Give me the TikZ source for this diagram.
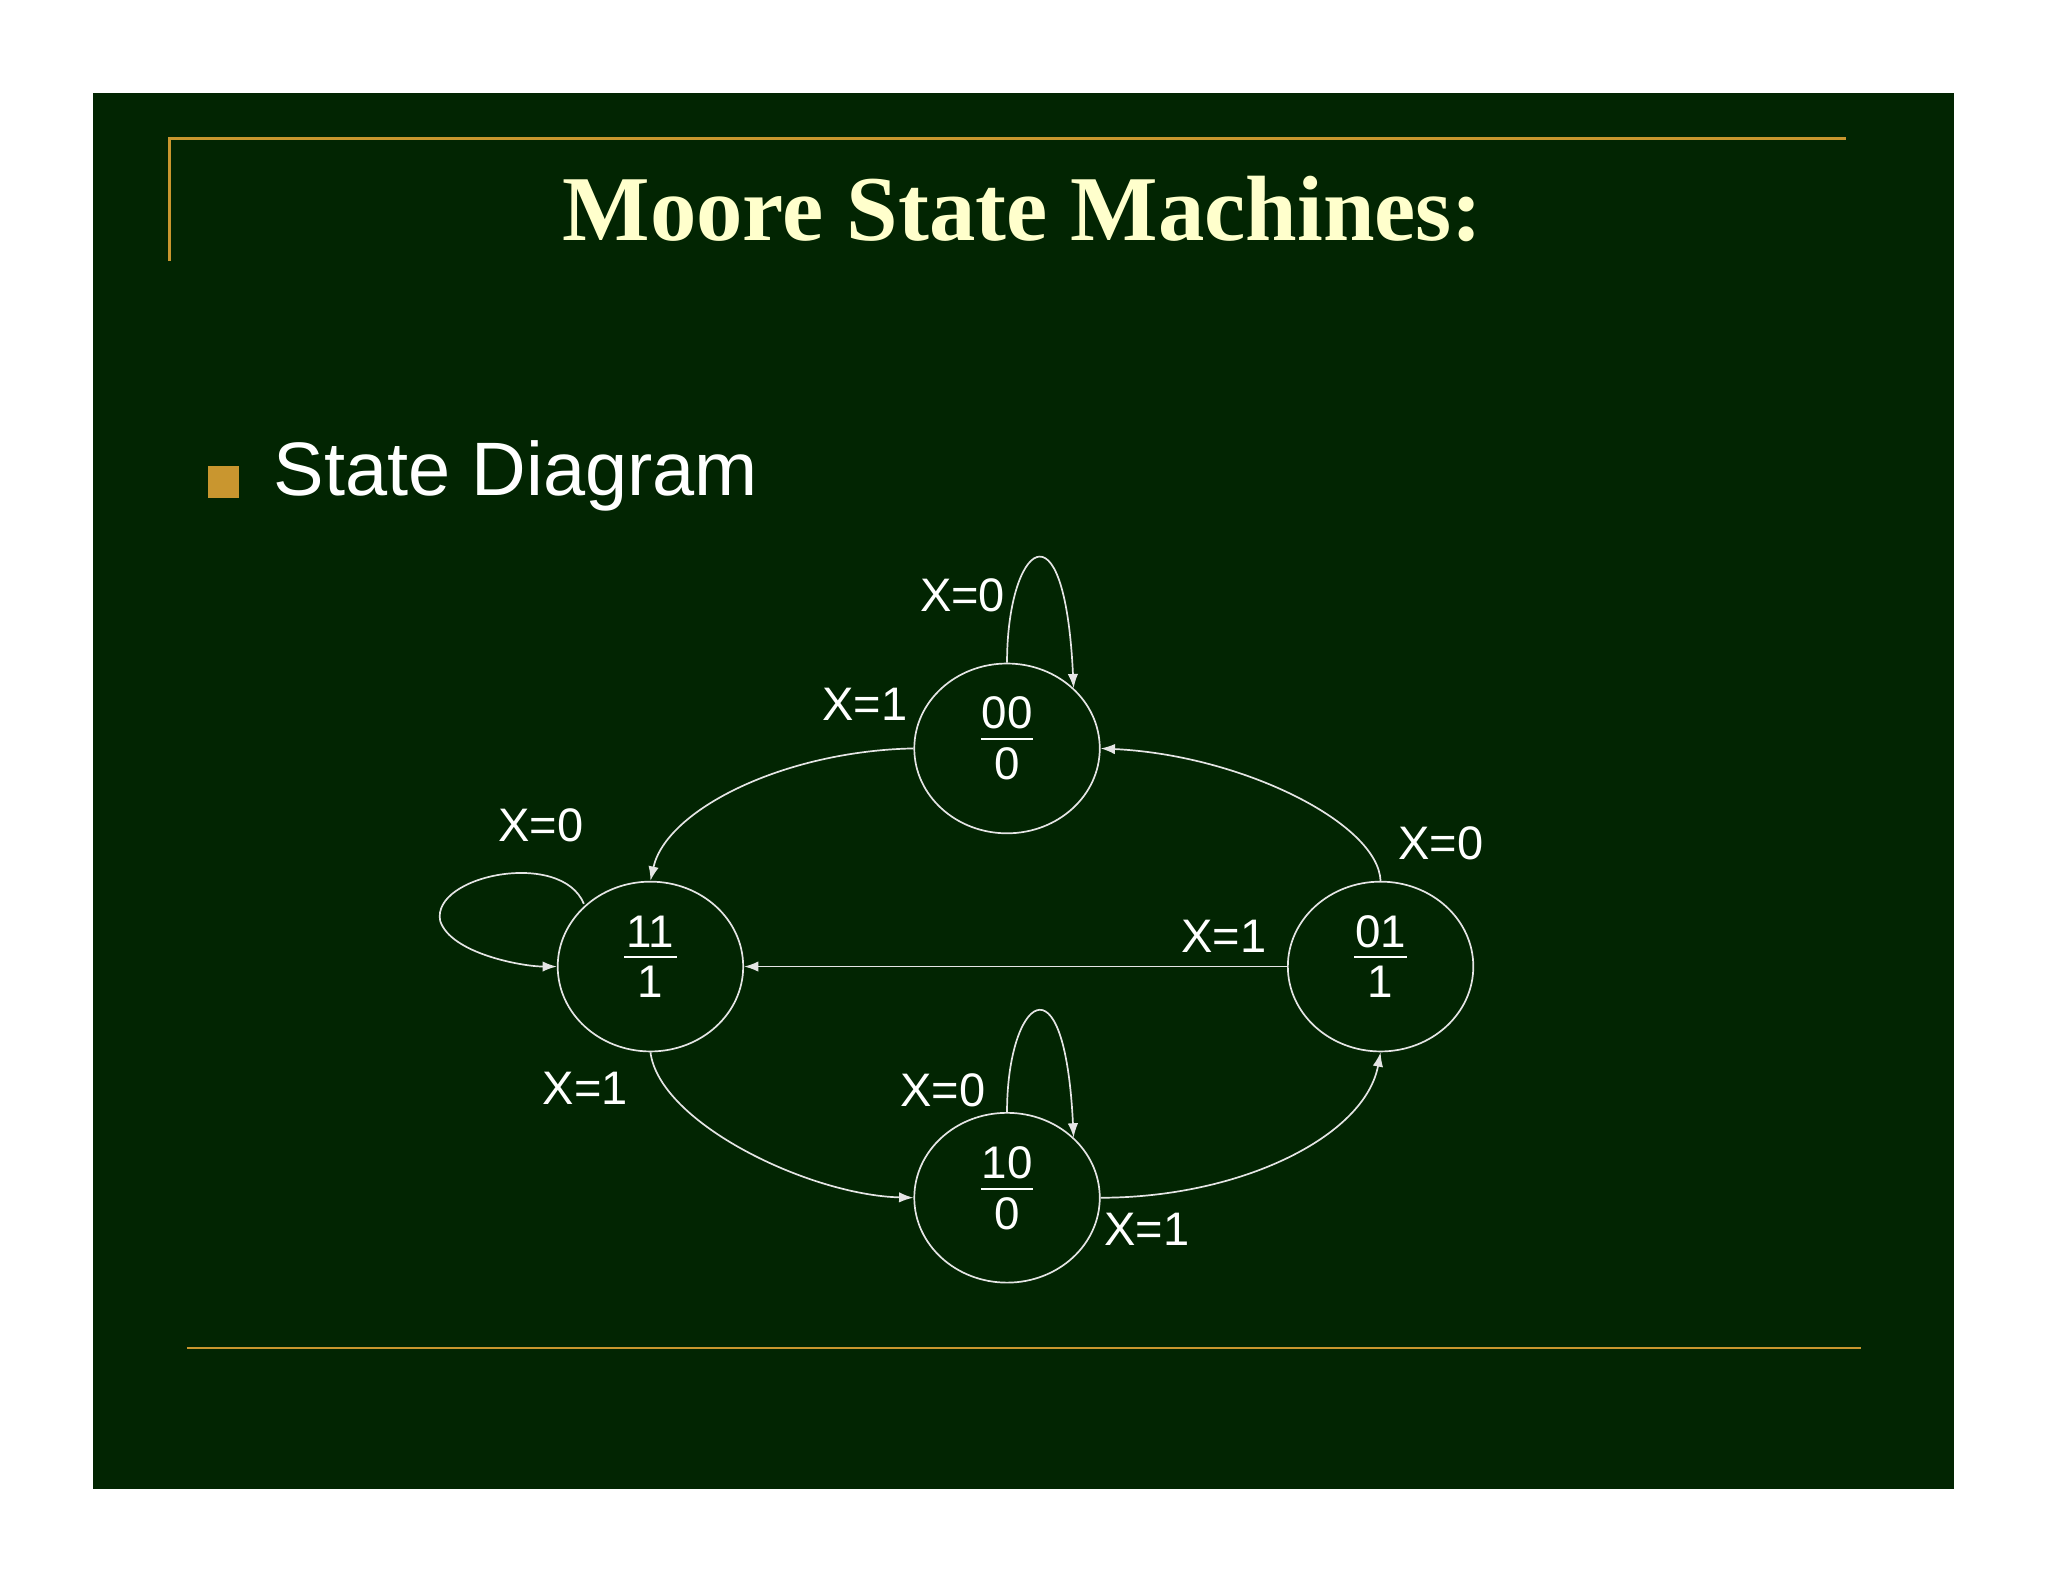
\documentclass[tikz,border=0pt]{standalone}
\usepackage{fontspec}
\setmainfont{Liberation Serif}
\setsansfont{Liberation Sans}
\usetikzlibrary{arrows.meta,shapes.geometric}
\definecolor{bg}{HTML}{022502}
\definecolor{gold}{HTML}{C9962F}
\definecolor{cream}{HTML}{FFFFCC}
\tikzset{
 st/.style={draw=white!90!black,line width=1.3pt,ellipse,minimum width=142pt,minimum height=130pt,inner sep=0pt},
 tr/.style={draw=white!90!black,line width=1.3pt,-{Latex[length=11pt,width=8pt]}},
 lb/.style={text=white,font=\sffamily\fontsize{36}{40}\selectfont},
 sl/.style={text=white,font=\sffamily\fontsize{35}{40}\selectfont,inner sep=0pt},
}
\begin{document}
\begin{tikzpicture}[x=1pt,y=-1pt]
\useasboundingbox (0,0) rectangle (1568,1211);
\fill[white] (0,0) rectangle (1568,1211);
\fill[bg] (71,71) rectangle (1496,1140);
\draw[gold,line width=2pt] (130,200) -- (130,106) -- (1413,106);
\draw[gold,line width=2pt] (143,1032) -- (1425,1032);
\node[text=cream,font=\bfseries\fontsize{71}{76}\selectfont] (title) at (783,160) {Moore State Machines:};
\fill[gold] (159,357) rectangle (183,381);
\node[anchor=west,text=white,font=\sffamily\fontsize{58}{64}\selectfont] (bul) at (206,364) {State Diagram};
\node[st] (s00) at (771,573) {};
\node[st] (s11) at (498,740) {};
\node[st] (s01) at (1057,740) {};
\node[st] (s10) at (771,917) {};
\foreach \n/\a/\b in {s00/00/0,s11/11/1,s01/01/1,s10/10/0}{
  \node[sl] (\n t) at ([yshift=27pt]\n.center) {\a};
  \node[sl] (\n b) at ([yshift=-12pt]\n.center) {\b};
  \draw[white,line width=1.5pt] ([xshift=-20pt,yshift=7pt]\n.center) -- ([xshift=20pt,yshift=7pt]\n.center);
}
\draw[tr] (s00.90) .. controls (771,418) and (815,378) .. (822,527);
\draw[tr] (s00.180) .. controls (600,575) and (510,620) .. (s11.90);
\draw[tr] (s01.90) .. controls (1055,630) and (950,578) .. (s00.0);
\draw[tr] (s01.180) -- (s11.0);
\draw[tr] (447,692) .. controls (430,650) and (330,670) .. (337,705) .. controls (345,730) and (400,740) .. (s11.180);
\draw[tr] (s11.270) .. controls (505,860) and (620,915) .. (s10.180);
\draw[tr] (s10.90) .. controls (771,766) and (815,726) .. (822,871);
\draw[tr] (s10.0) .. controls (950,917) and (1045,870) .. (s01.270);
\node[lb] (l1) at (737,456) {X=0};
\node[lb] (l2) at (662,539) {X=1};
\node[lb] (l3) at (1103,646) {X=0};
\node[lb] (l4) at (937,717) {X=1};
\node[lb] (l5) at (414,632) {X=0};
\node[lb] (l6) at (448,833) {X=1};
\node[lb] (l7) at (722,835) {X=0};
\node[lb] (l8) at (878,941) {X=1};
\end{tikzpicture}
\end{document}
